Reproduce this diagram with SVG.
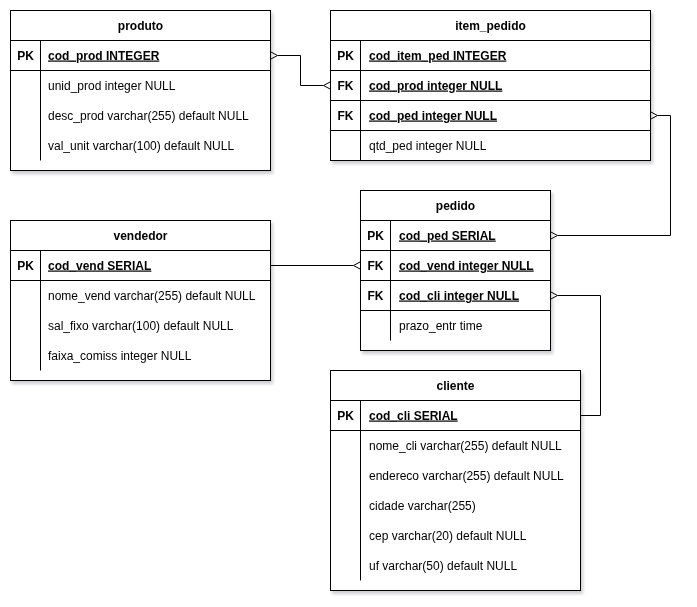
<svg xmlns="http://www.w3.org/2000/svg" width="697" height="607" viewBox="0 0 697 607">
<defs>
<filter id="sh" x="-10%" y="-10%" width="130%" height="130%">
<feDropShadow dx="2" dy="3" stdDeviation="1.5" flood-color="#223" flood-opacity="0.22"/>
</filter>
<marker id="crow" viewBox="0 0 8 10" refX="0" refY="5" markerWidth="8" markerHeight="10" markerUnits="userSpaceOnUse" orient="auto-start-reverse" overflow="visible">
<path d="M7.5,1 L0,5 L7.5,9" fill="none" stroke="#000" stroke-width="1"/>
</marker>
</defs>
<style>
.box{fill:#fff;stroke:#000;stroke-width:1}
.ln{stroke:#000;stroke-width:1;fill:none}
text{font-family:"Liberation Sans",Arial,Helvetica,sans-serif;font-size:12px;fill:#000}
.t{font-weight:bold;text-anchor:middle}
.k{font-weight:bold;text-anchor:middle}
.kf{font-weight:bold;text-decoration:underline}
.edge{stroke:#000;stroke-width:1;fill:none}
</style>
<rect width="697" height="607" fill="#fff"/>
<g id="connectors">
<path class="edge" d="M277.5,55.5 H300.5 V85.5 H323.5" marker-start="url(#crow)" marker-end="url(#crow)"/>
<path class="edge" d="M657.5,115.5 H670.5 V235.5 H557.5" marker-start="url(#crow)" marker-end="url(#crow)"/>
<path class="edge" d="M270.5,265.5 H353.5" marker-end="url(#crow)"/>
<path class="edge" d="M557.5,295.5 H600.5 V415.5 H580.5" marker-start="url(#crow)"/>
</g>
<g id="produto" filter="url(#sh)">
<rect class="box" x="10.5" y="10.5" width="260" height="160"/>
<path class="ln" d="M10.5,40.5 H270.5 M10.5,70.5 H270.5 M40.5,40.5 V160.5"/>
<text class="t" x="140.5" y="29.5">produto</text>
<text class="k" x="25.5" y="59.5">PK</text>
<text class="kf" x="48" y="59.5">cod_prod INTEGER</text>
<text x="48" y="89.5">unid_prod integer NULL</text>
<text x="48" y="119.5">desc_prod varchar(255) default NULL</text>
<text x="48" y="149.5">val_unit varchar(100) default NULL</text>
</g>
<g id="item_pedido" filter="url(#sh)">
<rect class="box" x="330.5" y="10.5" width="320" height="150"/>
<path class="ln" d="M330.5,40.5 H650.5 M330.5,70.5 H650.5 M330.5,100.5 H650.5 M330.5,130.5 H650.5 M360.5,40.5 V160.5"/>
<text class="t" x="490.5" y="29.5">item_pedido</text>
<text class="k" x="345.5" y="59.5">PK</text>
<text class="kf" x="369" y="59.5">cod_item_ped INTEGER</text>
<text class="k" x="345.5" y="89.5">FK</text>
<text class="kf" x="369" y="89.5">cod_prod integer NULL</text>
<text class="k" x="345.5" y="119.5">FK</text>
<text class="kf" x="369" y="119.5">cod_ped integer NULL</text>
<text x="369" y="149.5">qtd_ped integer NULL</text>
</g>
<g id="vendedor" filter="url(#sh)">
<rect class="box" x="10.5" y="220.5" width="260" height="160"/>
<path class="ln" d="M10.5,250.5 H270.5 M10.5,280.5 H270.5 M40.5,250.5 V370.5"/>
<text class="t" x="140.5" y="239.5">vendedor</text>
<text class="k" x="25.5" y="269.5">PK</text>
<text class="kf" x="48" y="269.5">cod_vend SERIAL</text>
<text x="48" y="299.5">nome_vend varchar(255) default NULL</text>
<text x="48" y="329.5">sal_fixo varchar(100) default NULL</text>
<text x="48" y="359.5">faixa_comiss integer NULL</text>
</g>
<g id="pedido" filter="url(#sh)">
<rect class="box" x="360.5" y="190.5" width="190" height="160"/>
<path class="ln" d="M360.5,220.5 H550.5 M360.5,250.5 H550.5 M360.5,280.5 H550.5 M360.5,310.5 H550.5 M390.5,220.5 V340.5"/>
<text class="t" x="455.5" y="209.5">pedido</text>
<text class="k" x="375.5" y="239.5">PK</text>
<text class="kf" x="399" y="239.5">cod_ped SERIAL</text>
<text class="k" x="375.5" y="269.5">FK</text>
<text class="kf" x="399" y="269.5">cod_vend integer NULL</text>
<text class="k" x="375.5" y="299.5">FK</text>
<text class="kf" x="399" y="299.5">cod_cli integer NULL</text>
<text x="399" y="329.5">prazo_entr time</text>
</g>
<g id="cliente" filter="url(#sh)">
<rect class="box" x="330.5" y="370.5" width="250" height="220"/>
<path class="ln" d="M330.5,400.5 H580.5 M330.5,430.5 H580.5 M360.5,400.5 V580.5"/>
<text class="t" x="455.5" y="389.5">cliente</text>
<text class="k" x="345.5" y="419.5">PK</text>
<text class="kf" x="369" y="419.5">cod_cli SERIAL</text>
<text x="369" y="449.5">nome_cli varchar(255) default NULL</text>
<text x="369" y="479.5">endereco varchar(255) default NULL</text>
<text x="369" y="509.5">cidade varchar(255)</text>
<text x="369" y="539.5">cep varchar(20) default NULL</text>
<text x="369" y="569.5">uf varchar(50) default NULL</text>
</g>
</svg>
